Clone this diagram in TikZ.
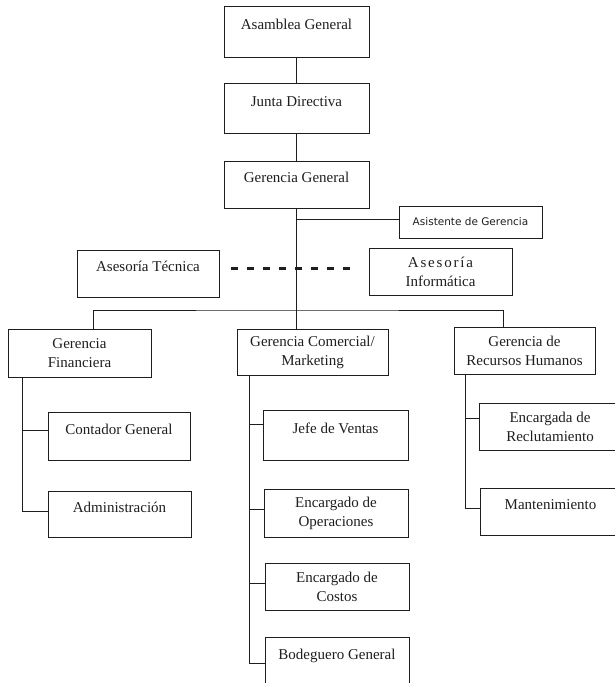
\documentclass[tikz,border=0pt]{standalone}
\usepackage{fontspec}
\setmainfont{Liberation Serif}
\newfontfamily\asansf{DejaVu Sans}
\definecolor{ink}{HTML}{1E1E1E}
\begin{document}
\begin{tikzpicture}[x=1pt,y=-1pt,
  box/.style={draw=ink, line width=1pt, inner sep=0pt, align=center, text=ink,
              font=\fontsize{15}{19}\selectfont},
  sz/.style 2 args={minimum width=#1pt, minimum height=#2pt},
  one/.style={text height=11pt, text depth=15pt},
  conn/.style={draw=ink, line width=0.9pt},
  dotline/.style={draw=ink, line width=3pt, dash pattern=on 7pt off 9pt}]
\useasboundingbox (0,0) rectangle (615,683);

% top chain
\node[box, one, sz={145}{51}] (asamblea) at (296.5,31.5) {Asamblea General};
\node[box, one, sz={145}{50}] (junta) at (296.5,108) {Junta Directiva};
\node[box, one, sz={145}{47}] (gergen) at (296.5,184.5) {Gerencia General};

% staff
\node[box, sz={143}{32}, font=\asansf\fontsize{10.5}{13}\selectfont] (asist) at (470.5,222) {Asistente de Gerencia};
\node[box, one, sz={142}{47}] (asestec) at (148,273.5) {Asesoría Técnica};
\node[box, sz={143}{47}] (asesinf) at (440.5,271.5) {{\addfontfeature{LetterSpace=12}Asesoría}\\Informática};

% managers
\node[box, sz={143}{48}] (gerfin) at (79.5,353) {Gerencia\\Financiera};
\node[box, sz={151}{46}] (gercom) at (312.5,352) {Gerencia Comercial/\\Marketing};
\node[box, sz={141}{47}] (gerrh) at (524.5,350.5) {Gerencia de\\Recursos Humanos};

% finance
\node[box, one, sz={142}{48}] (contador) at (119,436) {Contador General};
\node[box, one, sz={143}{46}] (admin) at (119.5,514) {Administración};

% commercial
\node[box, one, sz={145}{50}] (jefe) at (335.5,435) {Jefe de Ventas};
\node[box, sz={144}{48}] (oper) at (336,513) {Encargado de\\Operaciones};
\node[box, sz={144}{47}] (costos) at (337,586.5) {Encargado de\\Costos};
\node[box, one, sz={144}{49}] (bodeg) at (337,661.5) {Bodeguero General};

% HR
\node[box, sz={142}{47}] (reclut) at (550,426.5) {Encargada de\\Reclutamiento};
\node[box, one, sz={141}{47}] (mant) at (550.5,511.5) {Mantenimiento};

% main spine
\draw[conn] (asamblea) -- (junta);
\draw[conn] (junta) -- (gergen);
\draw[conn] (gergen.south) -- (gergen.south |- gercom.north);
\coordinate (bus) at (296.5,310);
\draw[conn] ([xshift=13.5pt]gerfin.north) |- (bus) -| ([xshift=-21.5pt]gerrh.north);

% assistant
\coordinate (asc) at ([yshift=3pt]asist.west);
\draw[conn] (asc) -- (asc -| gergen.south);

% advisory dashed line
\coordinate (dl) at ([xshift=11pt,yshift=5.5pt]asestec.east);
\coordinate (dr) at ([xshift=-11pt]asesinf.west);
\draw[dotline] (dl) -- (dl -| dr);

% finance branch
\coordinate (fs) at ([xshift=15pt]gerfin.south west);
\coordinate (f1) at ([yshift=6pt]contador.west);
\coordinate (f2) at ([yshift=3pt]admin.west);
\draw[conn] (fs) |- (f2);
\draw[conn] (f1) -- (f1 -| fs);

% commercial branch
\coordinate (cs) at ([xshift=13pt]gercom.south west);
\coordinate (k1) at ([yshift=11pt]jefe.west);
\coordinate (k2) at ([yshift=4pt]oper.west);
\coordinate (k3) at ([yshift=3.5pt]costos.west);
\coordinate (k4) at ([yshift=-1.5pt]bodeg.west);
\draw[conn] (cs) |- (k4);
\draw[conn] (k1) -- (k1 -| cs);
\draw[conn] (k2) -- (k2 -| cs);
\draw[conn] (k3) -- (k3 -| cs);

% HR branch
\coordinate (rs) at ([xshift=12pt]gerrh.south west);
\coordinate (r1) at ([yshift=8.5pt]reclut.west);
\coordinate (r2) at ([yshift=3.5pt]mant.west);
\draw[conn] (rs) |- (r2);
\draw[conn] (r1) -- (r1 -| rs);
\end{tikzpicture}
\end{document}
